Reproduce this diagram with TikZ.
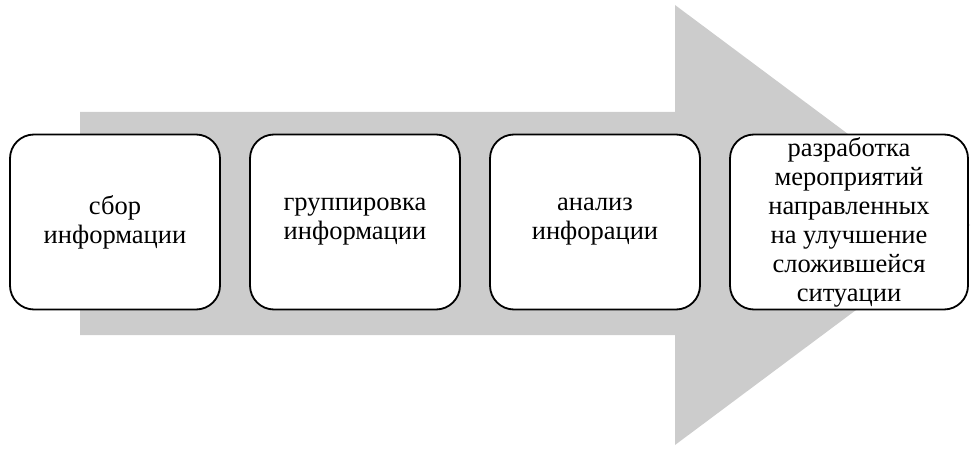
\documentclass[tikz,border=0pt]{standalone}
\usepackage{fontspec}
\setmainfont{Liberation Serif}
\begin{document}
\begin{tikzpicture}[x=1pt,y=-1pt,
  stage/.style={draw=black,line width=1.8pt,fill=white,rounded corners=24pt,
    minimum width=210pt,minimum height=175pt,align=center,
    font=\fontsize{26.5}{29}\selectfont,inner sep=1pt}]
\useasboundingbox (0,0) rectangle (978,449);
\fill[gray!40] (80,112) -- (675,112) -- (675,5) -- (970,225) -- (675,445) -- (675,335) -- (80,335) -- cycle;
\node[stage] (a) at (115,222) {сбор\\информации};
\node[stage] (b) at (355,222) {группировка\\информации};
\node[stage] (c) at (595,222) {анализ\\инфорации};
\node[stage,minimum width=238pt] (d) at (849,222) {разработка\\мероприятий\\направленных\\на улучшение\\сложившейся\\ситуации};
\end{tikzpicture}
\end{document}
